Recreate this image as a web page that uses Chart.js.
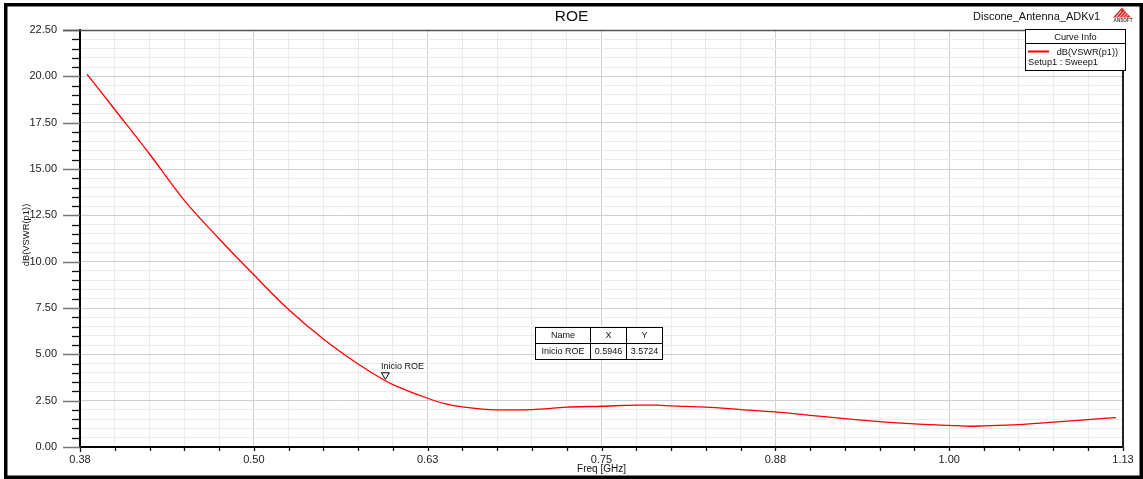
<!DOCTYPE html>
<html>
<head>
<meta charset="utf-8">
<title>ROE</title>
<script src="https://cdn.jsdelivr.net/npm/chart.js@4.4.1/dist/chart.umd.min.js"></script>
<style>
  html, body { margin: 0; padding: 0; background: #fff; }
  #wrap { width: 1143px; height: 479px; position: relative; }
</style>
</head>
<body>
<div id="wrap"><canvas id="roe" width="1143" height="479"></canvas></div>
<script>
// Sweep: dB(VSWR(p1)) versus frequency (GHz)
const freqGHz = [0.38, 0.40, 0.425, 0.45, 0.475, 0.50, 0.525, 0.55, 0.575, 0.5946, 0.60, 0.625, 0.6365, 0.65, 0.675, 0.70,
                 0.725, 0.75, 0.775, 0.79, 0.80, 0.825, 0.85, 0.875, 0.90, 0.925, 0.95, 0.975, 1.00, 1.015, 1.025,
                 1.05, 1.075, 1.10, 1.12];
const vswrDb  = [20.12, 18.21, 15.81, 13.31, 11.24, 9.29, 7.42, 5.83, 4.48, 3.5724, 3.37, 2.63, 2.35, 2.16, 2.00, 2.02,
                 2.15, 2.20, 2.26, 2.26, 2.22, 2.15, 2.02, 1.89, 1.71, 1.53, 1.37, 1.25, 1.17, 1.12, 1.14,
                 1.21, 1.34, 1.48, 1.59];

// Axis ticks
const xTickValues = [0.375, 0.5, 0.625, 0.75, 0.875, 1.0, 1.125];
const xTickLabels = ['0.38', '0.50', '0.63', '0.75', '0.88', '1.00', '1.13'];
const yTickValues = [0, 2.5, 5, 7.5, 10, 12.5, 15, 17.5, 20, 22.5];
const yTickLabels = ['0.00', '2.50', '5.00', '7.50', '10.00', '12.50', '15.00', '17.50', '20.00', '22.50'];
const minorDivisions = 5;

// Marker
const markerName = 'Inicio ROE';
const markerX = 0.5946;
const markerY = 3.5724;

// Texts
const plotTitle = 'ROE';
const designName = 'Discone_Antenna_ADKv1';
const curveName = 'dB(VSWR(p1))';
const sweepName = 'Setup1 : Sweep1';
const xTitle = 'Freq [GHz]';
const yTitle = 'dB(VSWR(p1))';

const FONT = '"Liberation Sans", Arial, Helvetica, sans-serif';

function withMinors(majors) {
  const out = [];
  for (let i = 0; i < majors.length - 1; i++) {
    const step = (majors[i + 1] - majors[i]) / minorDivisions;
    for (let j = 0; j < minorDivisions; j++) out.push(majors[i] + j * step);
  }
  out.push(majors[majors.length - 1]);
  return out;
}

const gridColor = (ctx) => (ctx.index % minorDivisions === 0 ? '#cfcfcf' : '#ebebeb');

const decorations = {
  id: 'decorations',
  beforeDraw(chart) {
    const c = chart.ctx;
    c.save();
    c.fillStyle = '#fff';
    c.fillRect(0, 0, chart.width, chart.height);
    // outer frame
    c.fillStyle = '#000';
    c.fillRect(4, 3, chart.width - 4, chart.height - 3);
    c.fillStyle = '#fff';
    c.fillRect(7.5, 6.5, chart.width - 11, chart.height - 10);
    c.restore();
  },
  afterDraw(chart) {
    const c = chart.ctx;
    const a = chart.chartArea;
    const xs = chart.scales.x, ys = chart.scales.y;
    c.save();

    // left tick marks
    ys.ticks.forEach((t, i) => {
      const y = Math.round(ys.getPixelForValue(t.value)) + 0.5;
      c.beginPath();
      if (i % minorDivisions === 0) {
        c.strokeStyle = '#777';
        c.lineWidth = 1.5;
        c.moveTo(63, y); c.lineTo(a.left, y);
      } else {
        c.strokeStyle = '#111';
        c.lineWidth = 1.3;
        c.moveTo(72, y); c.lineTo(a.left, y);
      }
      c.stroke();
    });
    // bottom tick marks
    xs.ticks.forEach((t, i) => {
      const x = Math.round(xs.getPixelForValue(t.value)) + 0.5;
      c.beginPath();
      c.strokeStyle = '#111';
      c.lineWidth = 1.3;
      c.moveTo(x, a.bottom);
      c.lineTo(x, a.bottom + (i === 0 ? 5 : 4));
      c.stroke();
    });

    // plot box top and right edges
    c.strokeStyle = '#555';
    c.lineWidth = 1.5;
    c.beginPath(); c.moveTo(63, a.top + 0.5); c.lineTo(a.right, a.top + 0.5); c.stroke();
    c.strokeStyle = '#222';
    c.lineWidth = 2;
    c.beginPath(); c.moveTo(a.right, a.top); c.lineTo(a.right, a.bottom + 1); c.stroke();

    // titles
    c.fillStyle = '#111';
    c.textBaseline = 'middle';
    c.textAlign = 'center';
    c.font = '15.5px ' + FONT;
    c.fillText(plotTitle, chart.width / 2, 17);
    c.textAlign = 'left';
    c.font = '11px ' + FONT;
    c.fillText(designName, 973, 17);

    // axis titles
    c.font = '10px ' + FONT;
    c.textAlign = 'center';
    c.fillText(xTitle, (a.left + a.right) / 2, 469);
    c.save();
    c.translate(26, 235);
    c.rotate(-Math.PI / 2);
    c.font = '9.4px ' + FONT;
    c.fillText(yTitle, 0, 0);
    c.restore();

    // logo
    c.save();
    c.fillStyle = '#e03030';
    c.beginPath();
    c.moveTo(1122, 7.5); c.lineTo(1131, 17.5); c.lineTo(1113, 17.5); c.closePath();
    c.fill();
    c.strokeStyle = '#fff';
    c.lineWidth = 0.8;
    for (let k = 0; k < 4; k++) {
      c.beginPath();
      c.moveTo(1116 + k * 3, 17.5);
      c.lineTo(1121 + k * 3, 11 + k * 0.5);
      c.stroke();
    }
    c.fillStyle = '#444';
    c.font = 'bold 4.6px ' + FONT;
    c.textAlign = 'center';
    c.fillText('ANSOFT', 1123, 20.5);
    c.restore();

    // curve info box
    const bx = 1025.5, by = 29.5, bw = 100, bh = 41;
    c.fillStyle = '#fff';
    c.fillRect(bx, by, bw, bh);
    c.strokeStyle = '#000';
    c.lineWidth = 1;
    c.strokeRect(bx, by, bw, bh);
    c.beginPath(); c.moveTo(bx, 43.5); c.lineTo(bx + bw, 43.5); c.stroke();
    c.fillStyle = '#111';
    c.font = '9.2px ' + FONT;
    c.textAlign = 'center';
    c.fillText('Curve Info', bx + bw / 2, 37);
    c.strokeStyle = '#ff0000';
    c.lineWidth = 2;
    c.beginPath(); c.moveTo(1028, 51.5); c.lineTo(1049, 51.5); c.stroke();
    c.textAlign = 'right';
    c.fillText(curveName, 1118, 52);
    c.textAlign = 'left';
    c.fillText(sweepName, 1028, 62.5);

    // marker
    const mx = xs.getPixelForValue(markerX);
    const my = ys.getPixelForValue(markerY);
    c.strokeStyle = '#000';
    c.lineWidth = 1;
    c.beginPath();
    c.moveTo(mx - 4, my - 8); c.lineTo(mx + 4, my - 8); c.lineTo(mx, my - 1.5); c.closePath();
    c.stroke();
    c.fillStyle = '#111';
    c.font = '9px ' + FONT;
    c.textAlign = 'left';
    c.textBaseline = 'alphabetic';
    c.fillText(markerName, mx - 4.4, my - 11.5);

    // marker table
    const tx = 535.5, ty = 327.5, colW = [55, 36, 36], rowH = 16;
    const rows = [['Name', 'X', 'Y'], [markerName, markerX.toFixed(4), markerY.toFixed(4)]];
    const tw = colW.reduce((s, w) => s + w, 0);
    c.fillStyle = '#fff';
    c.fillRect(tx, ty, tw, rowH * 2);
    c.strokeStyle = '#000';
    c.lineWidth = 1;
    c.strokeRect(tx, ty, tw, rowH * 2);
    c.beginPath(); c.moveTo(tx, ty + rowH); c.lineTo(tx + tw, ty + rowH); c.stroke();
    let cx = tx;
    for (let k = 0; k < colW.length - 1; k++) {
      cx += colW[k];
      c.beginPath(); c.moveTo(cx, ty); c.lineTo(cx, ty + rowH * 2); c.stroke();
    }
    c.fillStyle = '#111';
    c.textAlign = 'center';
    c.textBaseline = 'middle';
    c.font = '9px ' + FONT;
    rows.forEach((r, ri) => {
      let x0 = tx;
      r.forEach((txt, ci) => {
        c.fillText(txt, x0 + colW[ci] / 2, ty + rowH * ri + rowH / 2 + 0.5);
        x0 += colW[ci];
      });
    });

    c.restore();
  }
};

new Chart(document.getElementById('roe'), {
  type: 'scatter',
  data: {
    datasets: [{
      label: curveName,
      data: freqGHz.map((f, i) => ({ x: f, y: vswrDb[i] })),
      showLine: true,
      borderColor: '#ff0000',
      borderWidth: 1.3,
      pointRadius: 0,
      cubicInterpolationMode: 'monotone',
      fill: false
    }]
  },
  options: {
    responsive: false,
    animation: false,
    devicePixelRatio: 1,
    layout: { padding: { top: 30, right: 20, left: 0, bottom: 0 } },
    plugins: {
      legend: { display: false },
      tooltip: { enabled: false },
      title: { display: false }
    },
    scales: {
      x: {
        type: 'linear',
        min: xTickValues[0],
        max: xTickValues[xTickValues.length - 1],
        afterBuildTicks: (scale) => { scale.ticks = withMinors(xTickValues).map(v => ({ value: v })); },
        afterFit: (scale) => { scale.height = 32; },
        grid: { color: gridColor, lineWidth: 1, drawTicks: false },
        border: { display: true, color: '#000', width: 2 },
        ticks: {
          autoSkip: false,
          maxRotation: 0,
          padding: 6,
          color: '#222',
          font: { family: FONT, size: 11 },
          callback: (v, i) => (i % minorDivisions === 0 ? xTickLabels[i / minorDivisions] : '')
        }
      },
      y: {
        type: 'linear',
        min: yTickValues[0],
        max: yTickValues[yTickValues.length - 1],
        afterBuildTicks: (scale) => { scale.ticks = withMinors(yTickValues).map(v => ({ value: v })); },
        afterFit: (scale) => { scale.width = 80; },
        grid: { color: gridColor, lineWidth: 1, drawTicks: false },
        border: { display: true, color: '#000', width: 2 },
        ticks: {
          autoSkip: false,
          padding: 23,
          color: '#222',
          font: { family: FONT, size: 11 },
          callback: (v, i) => (i % minorDivisions === 0 ? yTickLabels[i / minorDivisions] : '')
        }
      }
    }
  },
  plugins: [decorations]
});
</script>
</body>
</html>
